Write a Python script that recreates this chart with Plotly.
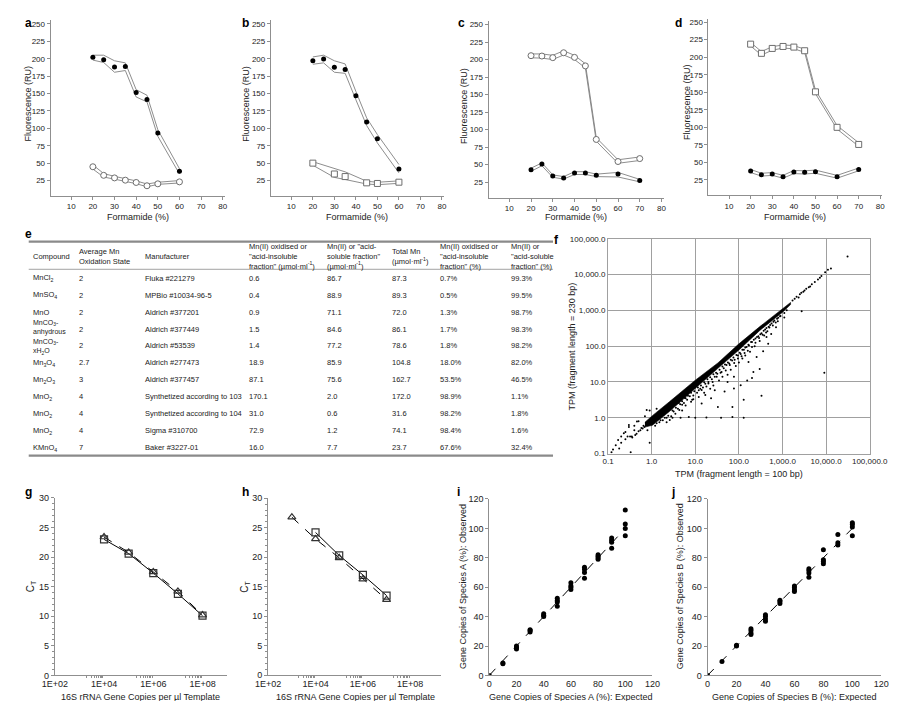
import plotly.graph_objects as go

W, H = 900, 701
FONT = "Liberation Sans, Arial, sans-serif"
TXT = "#222222"
AXC = "#8f8f8f"
BANDC = "#808080"

# ---------------- data: panels a-d (fluorescence vs formamide) ----------------
a_form = [20, 25, 30, 35, 40, 45, 50, 60]
a_filled = [201.9, 198.6, 188.2, 188.7, 151.4, 141.5, 93.4, 38.2]
a_filled_hi = [205, 205, 197, 194, 155.5, 147.5, 98, 42]
a_filled_lo = [198, 194.5, 180.5, 183, 145, 138, 88.5, 34.5]
a_open = [44.8, 32.5, 28.8, 25.5, 22.2, 17.5, 20.3, 23.1]
a_open_hi = [47.5, 35, 31, 28, 24.5, 20, 22.5, 25]
a_open_lo = [41.5, 30, 27, 24, 20.5, 16, 19.5, 21.5]

b_form = [20, 25, 30, 35, 40, 45, 50, 60]
b_filled = [197.2, 199.5, 187.7, 184.4, 146.7, 109.0, 84.9, 41.5]
b_filled_hi = [202.5, 205, 197, 192.5, 153, 115, 91, 48]
b_filled_lo = [192, 194, 180.5, 179, 141, 104, 79, 36]
b_form_open = [20, 30, 35, 45, 50, 60]
b_open = [50.0, 34.4, 30.7, 21.7, 20.8, 22.6]
b_open_hi = [52, 42, 37.5, 24, 22.5, 24.5]
b_open_lo = [47, 29.5, 26.5, 20, 19, 21]

cd_form = [20, 25, 30, 35, 40, 45, 50, 60, 70]
c_open = [205.5, 205.0, 202.7, 209.7, 203.1, 190.9, 86.0, 54.5, 58.7]
c_open_hi = [208, 208, 206, 212.5, 206, 194, 88.5, 57, 61]
c_open_lo = [202.5, 202, 200, 206.5, 200, 188, 83.5, 52, 56]
c_filled = [42.8, 50.8, 33.9, 31.1, 38.1, 38.1, 34.8, 36.7, 27.3]
c_filled_hi = [45, 52.5, 35.5, 33, 40, 40, 36.5, 39, 29]
c_filled_lo = [40.5, 48.5, 32, 29.5, 36, 36, 33, 32.5, 25.5]

d_open = [218.6, 205.5, 212.5, 215.3, 214.4, 209.2, 150.6, 100.0, 75.6]
d_open_hi = [221, 208, 215, 217.5, 216.5, 211.5, 153, 102.5, 78]
d_open_lo = [216, 203, 210, 213, 212, 207, 148, 97.5, 73]
d_filled = [37.7, 32.5, 33.4, 29.7, 36.3, 35.8, 36.7, 29.7, 40.0]
d_filled_hi = [40, 34.5, 35.5, 31.5, 38.5, 38, 39, 31.5, 42]
d_filled_lo = [35.5, 30.5, 31.5, 27.5, 34, 33.5, 34.5, 27.5, 38]

form_ticks = [10, 20, 30, 40, 50, 60, 70, 80]
fluor_ticks = [25, 50, 75, 100, 125, 150, 175, 200, 225, 250]

# ---------------- data: table e ----------------
tbl_headers = [
    "Compound",
    "Average Mn<br>Oxidation State",
    "Manufacturer",
    "Mn(II) oxidised or<br>\"acid-insoluble<br>fraction\" (µmol·ml<sup>-1</sup>)",
    "Mn(II) or \"acid-<br>soluble fraction\"<br>(µmol·ml<sup>-1</sup>)",
    "Total Mn<br>(µmol·ml<sup>-1</sup>)",
    "Mn(II) oxidised or<br>\"acid-insoluble<br>fraction\" (%)",
    "Mn(II) or<br>\"acid-soluble<br>fraction\" (%)",
]
tbl_compound = ["MnCl<sub>2</sub>", "MnSO<sub>4</sub>", "MnO", "MnCO<sub>3</sub>-<br>anhydrous",
                "MnCO<sub>3</sub>-<br>xH<sub>2</sub>O", "Mn<sub>3</sub>O<sub>4</sub>", "Mn<sub>2</sub>O<sub>3</sub>",
                "MnO<sub>2</sub>", "MnO<sub>2</sub>", "MnO<sub>2</sub>", "KMnO<sub>4</sub>"]
tbl_oxstate = ["2", "2", "2", "2", "2", "2.7", "3", "4", "4", "4", "7"]
tbl_manufacturer = ["Fluka #221279", "MPBio #10034-96-5", "Aldrich #377201", "Aldrich #377449",
                    "Aldrich #53539", "Aldrich #277473", "Aldrich #377457",
                    "Synthetized according to 103", "Synthetized according to 104",
                    "Sigma #310700", "Baker #3227-01"]
tbl_insoluble = ["0.6", "0.4", "0.9", "1.5", "1.4", "18.9", "87.1", "170.1", "31.0", "72.9", "16.0"]
tbl_soluble = ["86.7", "88.9", "71.1", "84.6", "77.2", "85.9", "75.6", "2.0", "0.6", "1.2", "7.7"]
tbl_total = ["87.3", "89.3", "72.0", "86.1", "78.6", "104.8", "162.7", "172.0", "31.6", "74.1", "23.7"]
tbl_insol_pct = ["0.7%", "0.5%", "1.3%", "1.7%", "1.8%", "18.0%", "53.5%", "98.9%", "98.2%", "98.4%", "67.6%"]
tbl_sol_pct = ["99.3%", "99.5%", "98.7%", "98.3%", "98.2%", "82.0%", "46.5%", "1.1%", "1.8%", "1.6%", "32.4%"]

# ---------------- data: panel f (TPM scatter) ----------------
# dense core of the point cloud (upper and lower edges)
f_core_x = [0.7, 1.04, 2.55, 10, 33, 100, 302, 1000, 1530]
f_core_hi = [0.75, 1.15, 2.8, 11.2, 34, 116, 352, 1156, 1660]
f_core_lo = [0.55, 0.62, 1.5, 6.5, 24, 78, 275, 880, 1450]
# individual points outside the dense core
f_pts_x = [
    # upper tail
    1700, 1900, 2100, 2340, 2500, 2700, 3000, 3200, 3500, 4000, 4300, 4700, 5500, 6500, 7200, 7800,
    9500, 11000, 12900, 31000,
    # isolated outliers
    2750, 9100,
    # row at TPM(230) = 1
    4.6, 7.1, 10, 18, 39, 71, 129,
    # fuzz just below the core
    1.3, 1.6, 2.0, 2.4, 3.0, 3.6, 4.2, 5.0, 5.8, 6.8, 8.0, 9.5, 11.5, 13.5, 16, 19, 22, 26, 30, 36,
    42, 48, 56, 65, 75, 88, 105, 120, 140, 165, 190, 220, 260, 310, 370, 430, 520, 620, 750, 880,
    1100, 1250,
    # second layer
    0.8, 1.2, 1.5, 1.8, 2.2, 2.8, 3.2, 4, 4.5, 5.5, 6.5, 7.5, 9, 11, 13, 15, 17, 20, 24, 28, 32,
    38, 45, 52, 60, 70, 80, 95, 110, 130, 150, 170, 200, 240, 280, 330, 400, 480, 560, 650, 800, 900,
    # third, sparser layer
    2.2, 3, 3.5, 5, 6, 8, 9, 12, 14, 16, 18, 22, 25, 26, 31, 35, 40, 42, 50, 55, 62, 65, 78, 85, 95,
    100, 115, 120, 135, 140, 160, 180, 200, 230, 240, 290, 300, 350, 380, 420, 450, 500, 600, 700, 780,
    # scattered points further below
    360, 300, 330, 200, 129, 71, 77, 33, 23, 14, 4.3, 2.6, 430, 550, 710, 1100, 470, 255, 166, 215,
    155, 110, 77, 55, 47, 28, 20, 17, 12, 8.5, 6.0, 5.0, 3.6, 1.8,
    # around the core at the low end
    0.3, 0.4, 0.5, 0.7, 0.9, 1.3, 0.25, 0.2, 0.77, 0.46, 0.32, 0.36, 0.42, 0.45, 0.5, 0.55, 0.58,
    0.62, 0.65, 0.68,
    # low-end scatter
    0.13, 0.12, 0.15, 0.17, 0.2, 0.23, 0.28, 0.33, 0.9, 0.18, 0.25, 0.35, 0.4, 0.3]
f_pts_y = [
    1900, 2100, 2400, 2290, 2800, 3100, 3300, 3600, 4000, 4400, 4600, 5400, 6200, 7300, 8200, 9100,
    11500, 13700, 14800, 32000,
    940, 18,
    1.0, 1.05, 1.0, 1.02, 1.0, 1.05, 1.0,
    0.7, 0.85, 1.0, 1.15, 1.6, 1.9, 2.6, 2.9, 3.6, 4.1, 5.0, 5.5, 7.0, 8.0, 9.8, 12, 13.5, 16.5, 18, 22,
    27, 31, 35, 42, 48, 57, 66, 80, 92, 110, 130, 150, 180, 215, 270, 320, 390, 480, 580, 690,
    850, 1000,
    0.45, 0.6, 0.75, 0.85, 1.0, 1.1, 1.5, 1.8, 2.4, 2.6, 3.2, 4.0, 4.2, 5.0, 6.5, 7.0, 9.0, 10,
    12, 14, 17, 18, 24, 30, 33, 40, 42, 55, 60, 80, 95, 105, 130, 165, 190, 230, 290, 350, 430, 520,
    620, 700,
    0.75, 1.0, 1.3, 1.6, 2.2, 2.8, 3.3, 3.8, 6, 5, 7.5, 6.5, 10, 8, 14, 11, 19, 14, 21, 16, 30, 22,
    34, 28, 45, 35, 52, 45, 65, 55, 75, 70, 95, 100, 125, 170, 140, 210, 200, 240, 260, 330, 380, 460, 500,
    72, 23, 4.1, 13, 3.2, 2.0, 6.6, 2.0, 3.5, 2.5, 1.66, 0.87, 180, 220, 340, 630, 117, 50, 36, 19,
    11, 8.1, 14, 10, 5.4, 5.9, 9.1, 4.3, 5.9, 3.2, 3.5, 2.3, 2.8, 1.2,
    0.55, 0.6, 0.8, 1.1, 1.6, 1.8, 0.4, 0.3, 1.66, 0.79, 0.3, 0.28, 0.33, 0.36, 0.42, 0.45, 0.52,
    0.5, 0.6, 0.55,
    0.13, 0.11, 0.17, 0.24, 0.2, 0.37, 0.3, 0.11, 0.2, 0.14, 0.25, 0.3, 0.45, 0.63]
f_tickvals = [0.1, 1, 10, 100, 1000, 10000, 100000]
f_ticktext = ["0.1", "1.0", "10.0", "100.0", "1,000.0", "10,000.0", "100,000.0"]

# ---------------- data: panels g, h (qPCR standard curves) ----------------
g_copies = [1e4, 1e5, 1e6, 1e7, 1e8]
g_ct_square = [23.0, 20.6, 17.3, 13.8, 10.1]
g_ct_triangle = [23.4, 20.8, 17.5, 14.2, 10.2]
h_copies_square = [1e4, 1e5, 1e6, 1e7]
h_ct_square = [24.2, 20.3, 17.0, 13.5]
h_copies_triangle = [1e3, 1e4, 1e5, 1e6, 1e7]
h_ct_triangle = [26.8, 23.1, 19.9, 16.3, 12.8]
copies_ticks = [1e2, 1e4, 1e6, 1e8]
copies_ticktext = ["1E+02", "1E+04", "1E+06", "1E+08"]
copies_minor = [k * 10 ** e for e in (3, 5, 7) for k in range(2, 10)]

# ---------------- data: panels i, j (expected vs observed) ----------------
i_expected = [0, 10, 10, 20, 20, 20, 30, 30, 30, 40, 40, 40, 50, 50, 50, 50, 60, 60, 60, 60,
              70, 70, 70, 70, 80, 80, 80, 80, 90, 90, 90, 90, 100, 100, 100, 100]
i_observed = [0, 8, 8.5, 18, 19, 20, 29.5, 30.5, 31, 40, 41, 42, 47, 50, 51, 52.5, 58.5, 60, 61, 63,
              66, 70, 72, 73.5, 79, 80, 81, 82, 86.5, 90.5, 92, 93.5, 95, 100, 103, 112.5]
j_expected = [0, 10, 20, 20, 30, 30, 30, 30, 40, 40, 40, 40, 50, 50, 50, 60, 60, 60, 60,
              70, 70, 70, 70, 80, 80, 80, 80, 90, 90, 90, 100, 100, 100, 100]
j_observed = [0, 9.4, 20, 20.5, 27.9, 28.8, 30.6, 31.7, 36.9, 38.4, 40, 41.3, 48.9, 50.3, 51.2,
              57, 58.1, 59.7, 60.8, 66.8, 69.7, 71.3, 72.6, 76, 77.5, 78.7, 85.4, 88.7, 90.3, 95.9,
              95, 101, 102.6, 103.9]
ideal_line = [0, 100]
pct_ticks = [0, 20, 40, 60, 80, 100, 120]

# ---------------- helpers ----------------
def px_x(p):
    return p / W


def px_y(p):
    return 1 - p / H


fig = go.Figure()


def ax_names(n):
    return ("x" if n == 1 else f"x{n}"), ("y" if n == 1 else f"y{n}")


def set_axes(n, xdom, ydom, xcfg, ycfg):
    xa, ya = ax_names(n)
    base = dict(showline=True, linecolor=AXC, linewidth=1, ticks="outside", ticklen=3,
                tickcolor=AXC, showgrid=False, zeroline=False,
                tickfont=dict(size=8, color=TXT, family=FONT))
    xd = dict(base, domain=[px_x(xdom[0]), px_x(xdom[1])], anchor=ya)
    xd.update(xcfg)
    yd = dict(base, domain=[px_y(ydom[1]), px_y(ydom[0])], anchor=xa)
    yd.update(ycfg)
    fig.layout["xaxis" if n == 1 else f"xaxis{n}"] = xd
    fig.layout["yaxis" if n == 1 else f"yaxis{n}"] = yd


FILLED = dict(symbol="circle", size=5, color="black")
OPEN_C = dict(symbol="circle", size=6, color="white", line=dict(color="#6e6e6e", width=1))
OPEN_S = dict(symbol="square", size=6, color="white", line=dict(color="#6e6e6e", width=1))


def band_series(n, xs, ys, hi, lo, marker):
    xa, ya = ax_names(n)
    for edge in (hi, lo):
        fig.add_trace(go.Scatter(x=xs, y=edge, mode="lines", xaxis=xa, yaxis=ya,
                                 line=dict(color=BANDC, width=0.9), hoverinfo="skip"))
    fig.add_trace(go.Scatter(x=xs, y=ys, mode="markers", xaxis=xa, yaxis=ya, marker=marker))


# ---------------- panels a-d ----------------
band_series(1, a_form, a_filled, a_filled_hi, a_filled_lo, FILLED)
band_series(1, a_form, a_open, a_open_hi, a_open_lo, OPEN_C)
band_series(2, b_form, b_filled, b_filled_hi, b_filled_lo, FILLED)
band_series(2, b_form_open, b_open, b_open_hi, b_open_lo, OPEN_S)
band_series(3, cd_form, c_open, c_open_hi, c_open_lo, OPEN_C)
band_series(3, cd_form, c_filled, c_filled_hi, c_filled_lo, FILLED)
band_series(4, cd_form, d_open, d_open_hi, d_open_lo, OPEN_S)
band_series(4, cd_form, d_filled, d_filled_hi, d_filled_lo, FILLED)

top_x = dict(range=[0.5, 81], tickvals=form_ticks)
top_y = dict(range=[3, 255], tickvals=fluor_ticks)
set_axes(1, (30.7, 211.2), (7.5, 185.5), top_x, top_y)
set_axes(2, (258.8, 438.2), (7.5, 185.5), top_x, top_y)
set_axes(3, (484.3, 665.6), (8.1, 187.3), top_x, top_y)
set_axes(4, (712.0, 892.2), (5.7, 185.0), top_x, top_y)

# ---------------- table e (text placed on its own hidden axes) ----------------
ann = []
col_left = [11, 59, 127, 235, 316, 383, 433, 506]
header_y = 247
row_y0, row_step = 269, 17.2
# small vertical nudges so the two-line compound cells do not collide
row_nudge = [0, 0, 0, -1.2, 1.2, 0, 0, 0, 0, 0, 0]
row_y = [row_y0 + row_step * k for k in range(len(tbl_compound))]
columns = [tbl_compound, tbl_oxstate, tbl_manufacturer, tbl_insoluble, tbl_soluble,
           tbl_total, tbl_insol_pct, tbl_sol_pct]
for ci, (cx, head, vals) in enumerate(zip(col_left, tbl_headers, columns)):
    for ri, (yy, txt) in enumerate(zip([header_y] + row_y, [head] + vals)):
        multi = ci == 0 and "<br>" in txt
        if multi:
            yy += row_nudge[ri - 1]
        ann.append(dict(text=txt, x=cx, y=yy, xref="x5", yref="y5", showarrow=False,
                        xanchor="left", yanchor="middle", align="left", borderpad=0,
                        font=dict(size=7 if multi else 7.5, color=TXT, family=FONT)))
fig.add_trace(go.Scatter(x=[0, 560], y=[215, 460], mode="markers", marker=dict(opacity=0),
                         xaxis="x5", yaxis="y5", hoverinfo="skip"))
fig.layout["xaxis5"] = dict(domain=[0, px_x(560)], range=[0, 560], visible=False, anchor="y5")
fig.layout["yaxis5"] = dict(domain=[px_y(460), px_y(215)], range=[460, 215], visible=False, anchor="x5")
for yy, wd in ((232, 2.2), (260, 0.8), (449, 2.2)):
    fig.add_shape(type="line", xref="x5", yref="y5", x0=8, x1=551, y0=yy, y1=yy,
                  line=dict(color="#8a8a8a", width=wd))

# ---------------- panel f ----------------
fig.add_trace(go.Scatter(x=f_core_x + f_core_x[::-1], y=f_core_hi + f_core_lo[::-1],
                         mode="lines", fill="toself", fillcolor="black",
                         line=dict(color="black", width=0.6), xaxis="x6", yaxis="y6"))
fig.add_trace(go.Scatter(x=f_pts_x, y=f_pts_y, mode="markers", xaxis="x6", yaxis="y6",
                         marker=dict(size=2, color="black")))
f_axis = dict(type="log", range=[-1, 5], tickvals=f_tickvals, ticktext=f_ticktext,
              showgrid=True, gridcolor="#a0a0a0", gridwidth=1, mirror=True, ticks="",
              linecolor="#a0a0a0")
set_axes(6, (608, 879), (229, 447), f_axis, f_axis)

# ---------------- panels g, h ----------------
sq = dict(symbol="square-open", size=7, color="#333", line=dict(width=1.2))
tri = dict(symbol="triangle-up-open", size=7, color="#333", line=dict(width=1.2))
fig.add_trace(go.Scatter(x=g_copies, y=g_ct_square, mode="lines+markers", xaxis="x7", yaxis="y7",
                         marker=sq, line=dict(color="black", width=1)))
fig.add_trace(go.Scatter(x=g_copies, y=g_ct_triangle, mode="lines+markers", xaxis="x7", yaxis="y7",
                         marker=tri, line=dict(color="black", width=1, dash="dash")))
fig.add_trace(go.Scatter(x=h_copies_square, y=h_ct_square, mode="lines+markers", xaxis="x8", yaxis="y8",
                         marker=sq, line=dict(color="black", width=1)))
fig.add_trace(go.Scatter(x=h_copies_triangle, y=h_ct_triangle, mode="lines+markers", xaxis="x8",
                         yaxis="y8", marker=tri, line=dict(color="black", width=1, dash="dash")))
gx = dict(type="log", tickvals=copies_ticks, ticktext=copies_ticktext, ticks="",
          minor=dict(tickvals=copies_minor, ticks="outside", ticklen=2, tickcolor=AXC),
          tickfont=dict(size=9, color=TXT, family=FONT))
gy = dict(range=[0, 30], dtick=5, tick0=0, minor=dict(dtick=1, ticks="outside", ticklen=2, tickcolor=AXC),
          tickfont=dict(size=9, color=TXT, family=FONT))
set_axes(7, (35, 213.5), (492, 672), dict(gx, range=[2, 9]), gy)
set_axes(8, (256, 435), (492.3, 671.7), dict(gx, range=[2, 9.3]), gy)

# ---------------- panels i, j ----------------
for n, ex, ob in ((9, i_expected, i_observed), (10, j_expected, j_observed)):
    xa, ya = ax_names(n)
    fig.add_trace(go.Scatter(x=ideal_line, y=ideal_line, mode="lines", xaxis=xa, yaxis=ya,
                             line=dict(color="black", width=1, dash="dash")))
    fig.add_trace(go.Scatter(x=ex, y=ob, mode="markers", xaxis=xa, yaxis=ya,
                             marker=dict(size=5, color="black")))
ij_y = dict(range=[0, 120], tickvals=pct_ticks, tickfont=dict(size=9, color=TXT, family=FONT))
ij_x = dict(ij_y, ticks="")
set_axes(9, (485, 654), (493, 672), ij_x, ij_y)
set_axes(10, (711, 891), (493, 672), ij_x, ij_y)

# ---------------- annotations ----------------
def label(txt, x, y, size=9, angle=0, xanchor="center", yanchor="middle", bold=False):
    ann.append(dict(text=f"<b>{txt}</b>" if bold else txt, x=px_x(x), y=px_y(y), xref="paper",
                    yref="paper", showarrow=False, textangle=angle, xanchor=xanchor,
                    yanchor=yanchor, borderpad=0,
                    font=dict(size=size, color="black" if bold else TXT, family=FONT)))


for letter, lx, ly in (("a", 3, 2), ("b", 228, 2), ("c", 452, 2), ("d", 676, 2), ("e", 3, 216),
                       ("f", 551, 222), ("g", 3, 478), ("h", 228, 478), ("i", 450, 478), ("j", 672, 478)):
    label(letter, lx, ly, size=12, xanchor="left", yanchor="top", bold=True)

for cx in (121, 348.5, 575, 802):
    label("Formamide (%)", cx, 207)
for fx, fy in ((7, 92), (233, 92), (458, 94), (689, 90)):
    label("Fluorescence (RU)", fx, fy, angle=-90)

label("TPM (fragment length = 100 bp)", 743.5, 468)
label("TPM (fragment length = 230 bp)", 571, 338, angle=-90)

label("16S rRNA Gene Copies per µl Template", 124, 694, size=9)
label("16S rRNA Gene Copies per µl Template", 346, 694, size=9)
label("C<sub>T</sub>", 10, 582, size=10, angle=-90)
label("C<sub>T</sub>", 232, 582, size=10, angle=-90)

label("Gene Copies of Species A (%): Expected", 570, 694, size=9)
label("Gene Copies of Species A (%): Observed", 457, 582, size=9, angle=-90)
label("Gene Copies of Species B (%): Expected", 801, 694, size=9)
label("Gene Copies of Species B (%): Observed", 682, 582, size=9, angle=-90)

fig.update_layout(width=W, height=H, margin=dict(l=0, r=0, t=0, b=0), showlegend=False,
                  plot_bgcolor="white", paper_bgcolor="white", annotations=ann,
                  font=dict(family=FONT, color=TXT))

fig.write_html("out.html")
